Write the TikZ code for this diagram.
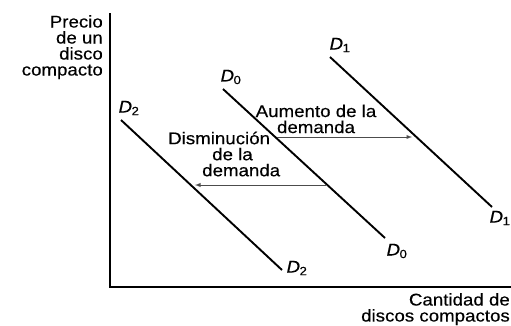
\documentclass[tikz,border=0pt]{standalone}
\usepackage{fontspec}
\setmainfont{Liberation Sans}
\newfontfamily\labfont[FakeStretch=1.1,FakeBold=0.3]{Liberation Sans}
\tikzset{%
  >=latex, % default arrow style
  axis/.style={line width=1.9pt},%
  curve/.style={line width=1.9pt},%
  demshift/.style={->,line width=0.9pt,black!70},%
  lab/.style={inner sep=0pt,font=\labfont\fontsize{17}{16}\selectfont},%
  dname/.style={inner sep=0pt,font=\labfont\fontsize{17}{17}\selectfont}%
}
\newcommand{\dlab}[1]{\textit{D}\textsubscript{\kern-0.5pt#1}}

\begin{document}
\begin{tikzpicture}[x=1pt,y=-1pt]
  \useasboundingbox[fill=white] (0,0) rectangle (511,325);
  % axis
  \coordinate (o)    at (110,287);
  \coordinate (ytop) at (110,13);
  \coordinate (xend) at (511,287);
  \draw[axis] (ytop) -- (o) -- (xend);
  \node[lab,anchor=north east,align=right] (ylab) at (103,15)
    {Precio\\de un\\disco\\compacto};
  \node[lab,anchor=north east,align=right] (xlab) at (510,293)
    {Cantidad de\\discos compactos};
  % demand curves
  \coordinate (d2a) at (121,120);
  \coordinate (d2b) at (282,270);
  \coordinate (d0a) at (223,89);
  \coordinate (d0b) at (385,238);
  \coordinate (d1a) at (330,57);
  \coordinate (d1b) at (492,207);
  \draw[curve] (d2a) -- (d2b);
  \draw[curve] (d0a) -- (d0b);
  \draw[curve] (d1a) -- (d1b);
  % curve names
  \node[dname] (n2a) at (129,108) {\dlab{2}};
  \node[dname] (n2b) at (297,268) {\dlab{2}};
  \node[dname] (n0a) at (231,77)  {\dlab{0}};
  \node[dname] (n0b) at (397,251) {\dlab{0}};
  \node[dname] (n1a) at (340,45)  {\dlab{1}};
  \node[dname] (n1b) at (500,218) {\dlab{1}};
  % shifts
  \coordinate (aum-a) at (277,137);
  \coordinate (aum-b) at (412,137);
  \coordinate (dis-a) at (326,185);
  \coordinate (dis-b) at (195,185);
  \draw[demshift] (aum-a) -- (aum-b);
  \draw[demshift] (dis-a) -- (dis-b);
  \node[lab,anchor=north,align=center] (aum) at (316,104.5)
    {Aumento de la\\demanda};
  \node[lab,anchor=north west,align=left] (dis) at (168,131.5)
    {Disminución\\\hspace*{44pt}de la\\\hspace*{34pt}demanda};
\end{tikzpicture}
\end{document}
